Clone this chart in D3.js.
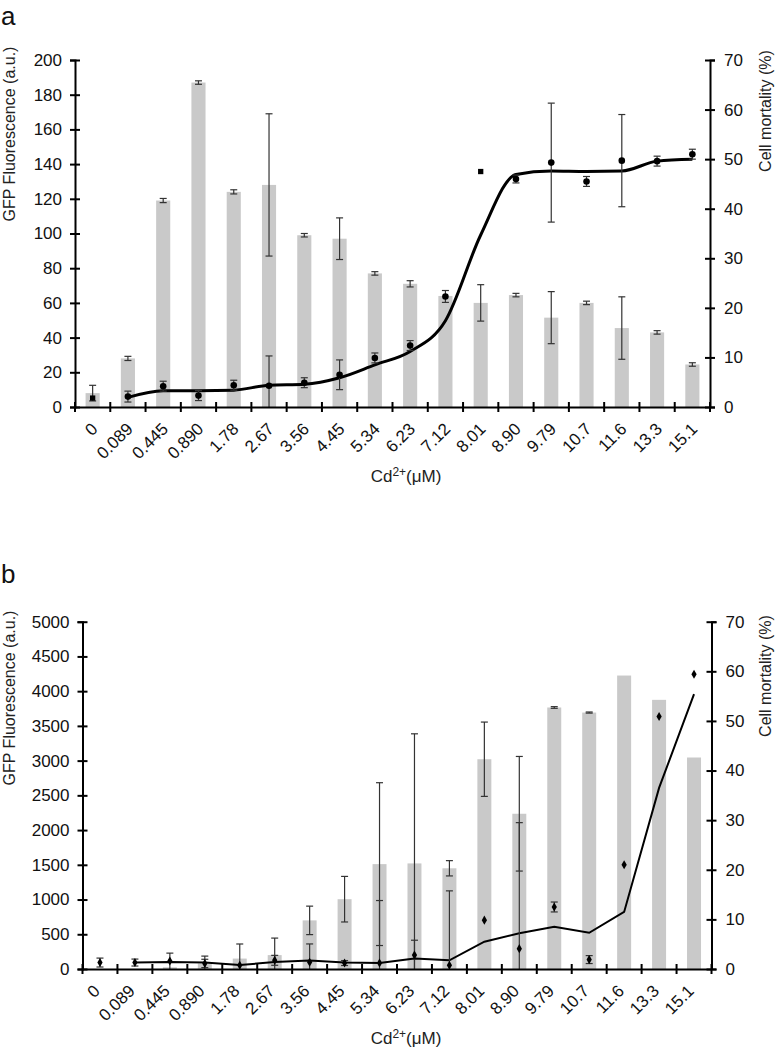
<!DOCTYPE html>
<html>
<head>
<meta charset="utf-8">
<script src="https://cdn.jsdelivr.net/npm/d3@7"></script>
<style>
body { margin: 0; background: #fff; }
svg { display: block; font-family: "Liberation Sans", Arial, sans-serif; }
.axis path, .axis line { stroke: #000; stroke-width: 2; }
.axis text { font-size: 17px; fill: #111; }
.bar { fill: #c9c9c9; }
.err { stroke: #333; stroke-width: 1.2; }
.trend { fill: none; stroke: #000; }
.title { font-size: 16px; fill: #222; }
.panel-label { font-size: 26px; fill: #111; }
</style>
</head>
<body>
<svg width="775" height="1050"></svg>
<script>
var concentrations = ["0", "0.089", "0.445", "0.890", "1.78", "2.67", "3.56", "4.45", "5.34",
                      "6.23", "7.12", "8.01", "8.90", "9.79", "10.7", "11.6", "13.3", "15.1"];
var mortalityTicks = [0, 10, 20, 30, 40, 50, 60, 70];

// panel a
var gfpTicksA = [0, 20, 40, 60, 80, 100, 120, 140, 160, 180, 200];
var gfpA = [8, 28, 119, 187, 124, 128, 99, 97, 77, 71, 64, 60, 64.5, 51.5, 60, 45.5, 43, 24.5];
var gfpErrA = [4.5, 1.2, 1.2, 1, 1.2, 41, 1, 12, 1, 1.8, 0, 10.5, 1, 15, 1, 18, 1, 1];
var mortalityA = [1.8, 2.1, 4.2, 2.3, 4.4, 4.3, 4.9, 6.5, 9.9, 12.4, 22.3, 47.5, 46, 49.3, 45.5, 49.7, 49.6, 51];
var mortalityErrA = [0, 1.1, 1, 1, 1, 6, 1, 3, 1, 1, 1.2, 0, 0.8, 12, 1, 9.3, 1, 1];
var trendA = [null, 1.95, 3.3, 3.3, 3.4, 4.4, 4.6, 5.9, 8.5, 11.2, 17.4, 34.7, 46.9, 47.6, 47.5, 47.6, 49.6, 50];

// panel b
var gfpTicksB = [0, 500, 1000, 1500, 2000, 2500, 3000, 3500, 4000, 4500, 5000];
var gfpB = [0, 0, 25, 80, 150, 200, 700, 1005, 1510, 1520, 1450, 3020, 2235, 3765, 3692, 4225, 3875, 3045];
var gfpErrB = [0, 0, 0, 60, 210, 245, 205, 328, 1172, 1866, 110, 535, 825, 12, 8, 0, 0, 0];
var mortalityB = [1.3, 1.3, 1.6, 1.1, 0.75, 1.75, 1.35, 1.2, 1.2, 2.8, 0.75, 9.85, 4.1, 12.5, 1.9, 21, 50.9, 59.4];
var mortalityErrB = [0.9, 0.7, 1.6, 1.5, 0, 1, 3.7, 0.5, 12.6, 3, 15, 0, 25.4, 1, 0.8, 0, 0, 0];
var trendB = [null, 1.3, 1.4, 1.3, 0.8, 1.4, 1.7, 1.3, 1.2, 2.1, 1.76, 5.5, 7.2, 8.5, 7.3, 11.5, 36.5, 55.4];

var svg = d3.select("svg");

function mortalityPanel(options) {
    var self = {};
    self.g = svg.append("g");
    self.x = d3.scaleBand().domain(concentrations).range([options.left, options.right]);
    self.yLeft = d3.scaleLinear().domain([0, d3.max(options.gfpTicks)]).range([options.bottom, options.top]);
    self.yRight = d3.scaleLinear().domain([0, d3.max(mortalityTicks)]).range([options.bottom, options.top]);

    self.center = function (i) {
        return self.x(concentrations[i]) + self.x.bandwidth() / 2;
    };

    self.drawBars = function () {
        var w = self.x.bandwidth() * 0.4;
        self.g.selectAll("rect.bar")
                .data(options.gfp)
                .enter().append("rect")
                .attr("class", "bar")
                .attr("x", function (d, i) { return self.center(i) - w / 2; })
                .attr("y", function (d) { return self.yLeft(d); })
                .attr("width", w)
                .attr("height", function (d) { return self.yLeft(0) - self.yLeft(d); });
    };

    self.drawErrors = function (values, errors, scale) {
        var cap = 3.5;
        values.forEach(function (v, i) {
            var e = errors[i];
            if (!e) return;
            var cx = self.center(i);
            var hi = scale(v + e);
            var lo = scale(Math.max(0, v - e));
            self.g.append("line").attr("class", "err")
                    .attr("x1", cx).attr("x2", cx).attr("y1", hi).attr("y2", lo);
            self.g.append("line").attr("class", "err")
                    .attr("x1", cx - cap).attr("x2", cx + cap).attr("y1", hi).attr("y2", hi);
            if (v - e > 0) {
                self.g.append("line").attr("class", "err")
                        .attr("x1", cx - cap).attr("x2", cx + cap).attr("y1", lo).attr("y2", lo);
            }
        });
    };

    self.drawTrend = function () {
        var line = d3.line()
                .defined(function (d) { return d !== null; })
                .x(function (d, i) { return self.center(i); })
                .y(function (d) { return self.yRight(d); })
                .curve(options.smooth ? d3.curveMonotoneX : d3.curveLinear);
        self.g.append("path")
                .attr("class", "trend")
                .attr("stroke-width", options.lineWidth)
                .attr("d", line(options.trend));
    };

    self.drawMarkers = function () {
        self.g.selectAll("path.marker")
                .data(options.mortality)
                .enter().append("path")
                .attr("class", "marker")
                .attr("fill", "#000")
                .attr("transform", function (d, i) {
                    return "translate(" + self.center(i) + "," + self.yRight(d) + ")";
                })
                .attr("d", function (d, i) {
                    var shape = options.markerShape(i);
                    return d3.symbol().type(shape.type).size(shape.size)();
                });
    };

    self.drawAxes = function () {
        var left = self.g.append("g")
                .attr("class", "axis")
                .attr("transform", "translate(" + options.left + ",0)")
                .call(d3.axisLeft(self.yLeft).tickValues(options.gfpTicks).tickFormat(d3.format("d"))
                        .tickSizeOuter(0).tickSize(5).tickPadding(8));
        left.selectAll(".tick line").attr("x1", 5);

        var right = self.g.append("g")
                .attr("class", "axis")
                .attr("transform", "translate(" + options.right + ",0)")
                .call(d3.axisRight(self.yRight).tickValues(mortalityTicks).tickSizeOuter(0).tickSize(5).tickPadding(9));
        right.selectAll(".tick line").attr("x1", -5);

        var bottom = self.g.append("g")
                .attr("class", "axis")
                .attr("transform", "translate(0," + options.bottom + ")")
                .call(d3.axisBottom(self.x).tickSize(0).tickSizeOuter(0));
        bottom.selectAll(".tick text")
                .attr("x", 0).attr("y", 0).attr("dy", 0)
                .attr("text-anchor", "end")
                .attr("transform", "translate(" + options.labelShift + ",23) rotate(-45)");

        var bounds = concentrations.map(function (c) { return self.x(c); }).concat([options.right]);
        bottom.selectAll("line.bound")
                .data(bounds)
                .enter().append("line")
                .attr("class", "bound")
                .attr("x1", function (d) { return d; })
                .attr("x2", function (d) { return d; })
                .attr("y1", -5)
                .attr("y2", 5);
    };

    self.drawTitles = function () {
        self.g.append("text")
                .attr("class", "title")
                .attr("text-anchor", "middle")
                .attr("transform", "translate(15," + options.leftTitleY + ") rotate(-90)")
                .text("GFP Fluorescence (a.u.)");
        self.g.append("text")
                .attr("class", "title")
                .attr("text-anchor", "middle")
                .attr("transform", "translate(771," + options.rightTitleY + ") rotate(-90)")
                .text("Cell mortality (%)");
        var xt = self.g.append("text")
                .attr("class", "title")
                .attr("text-anchor", "middle")
                .attr("x", 406)
                .attr("y", options.bottom + 75)
                .style("font-size", "17px");
        xt.append("tspan").text("Cd");
        xt.append("tspan").attr("dy", -6).style("font-size", "12px").text("2+");
        xt.append("tspan").attr("dy", 6).text("(\u03bcM)");
        self.g.append("text")
                .attr("class", "panel-label")
                .attr("x", 1)
                .attr("y", options.labelY)
                .text(options.label);
    };

    self.drawBars();
    self.drawErrors(options.gfp, options.gfpErr, self.yLeft);
    self.drawTrend();
    self.drawErrors(options.mortality, options.mortalityErr, self.yRight);
    self.drawMarkers();
    self.drawAxes();
    self.drawTitles();
    return self;
}

mortalityPanel({
    label: "a", labelY: 25,
    left: 75, right: 710, top: 60, bottom: 407,
    gfpTicks: gfpTicksA, gfp: gfpA, gfpErr: gfpErrA,
    mortality: mortalityA, mortalityErr: mortalityErrA, trend: trendA,
    smooth: true, lineWidth: 3, labelShift: 6,
    leftTitleY: 134, rightTitleY: 111,
    markerShape: function (i) {
        return (i === 0 || i === 11) ? {type: d3.symbolSquare, size: 28} : {type: d3.symbolCircle, size: 34};
    }
});

mortalityPanel({
    label: "b", labelY: 583,
    left: 82.5, right: 711.5, top: 621.7, bottom: 969,
    gfpTicks: gfpTicksB, gfp: gfpB, gfpErr: gfpErrB,
    mortality: mortalityB, mortalityErr: mortalityErrB, trend: trendB,
    smooth: false, lineWidth: 2, labelShift: 1,
    leftTitleY: 698, rightTitleY: 676,
    markerShape: function () { return {type: d3.symbolDiamond, size: 24}; }
});
</script>
</body>
</html>
